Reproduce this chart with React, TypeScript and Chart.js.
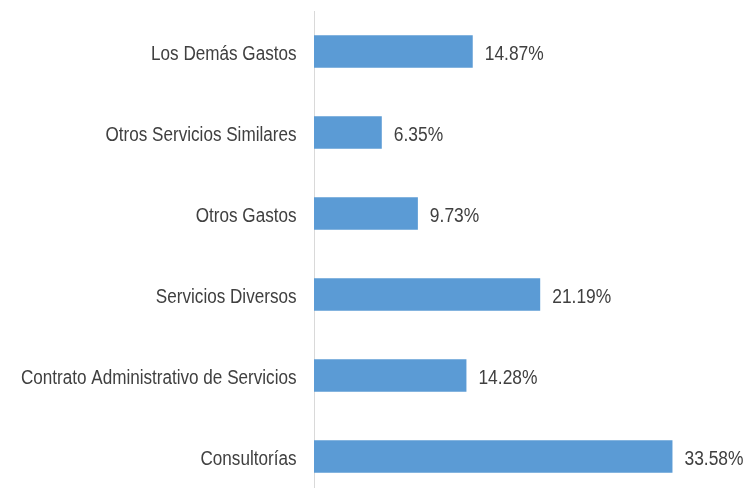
import React, { useEffect, useRef } from "react";
import { Chart, registerables } from "chart.js";

Chart.register(...registerables);

const categories = [
  "Los Demás Gastos",
  "Otros Servicios Similares",
  "Otros Gastos",
  "Servicios Diversos",
  "Contrato Administrativo de Servicios",
  "Consultorías",
];
const values = [14.87, 6.35, 9.73, 21.19, 14.28, 33.58];
const valueLabels = ["14.87%", "6.35%", "9.73%", "21.19%", "14.28%", "33.58%"];

const FONT = "'Liberation Sans', Arial, sans-serif";
const TEXT = "#404040";

const textPlugin = {
  id: "narrowText",
  afterDatasetsDraw(chart: any) {
    const ctx = chart.ctx;
    const meta = chart.getDatasetMeta(0);
    const yScale = chart.scales.y;
    const left = chart.chartArea.left;
    ctx.save();
    ctx.font = `20px ${FONT}`;
    ctx.fillStyle = TEXT;
    ctx.textBaseline = "alphabetic";
    // value labels
    ctx.textAlign = "left";
    meta.data.forEach((bar: any, i: number) => {
      ctx.save();
      ctx.translate(bar.x + 12, bar.y + 8);
      ctx.scale(0.87, 1);
      ctx.fillText(valueLabels[i], 0, 0);
      ctx.restore();
    });
    // category labels
    ctx.textAlign = "right";
    categories.forEach((c: string, i: number) => {
      const y = yScale.getPixelForValue(i);
      ctx.save();
      ctx.translate(left - 17.5, y + 8);
      ctx.scale(0.855, 1);
      ctx.fillText(c, 0, 0);
      ctx.restore();
    });
    ctx.restore();
  },
};

export default function App() {
  const ref = useRef<HTMLCanvasElement>(null);
  useEffect(() => {
    if (!ref.current) return;
    const chart = new Chart(ref.current, {
      type: "bar",
      data: {
        labels: categories,
        datasets: [
          {
            data: values,
            backgroundColor: "#5B9BD5",
            borderWidth: 0,
            categoryPercentage: 1,
            barPercentage: 0.4,
          },
        ],
      },
      options: {
        indexAxis: "y",
        animation: false,
        responsive: true,
        maintainAspectRatio: false,
        layout: { padding: { top: 11, bottom: 3, left: 0, right: 5 } },
        plugins: {
          legend: { display: false },
          tooltip: { enabled: false },
        },
        scales: {
          x: { display: false, min: 0, max: 40 },
          y: {
            afterFit(scale: any) {
              scale.width = 314;
              scale.paddingTop = 0;
              scale.paddingBottom = 0;
            },
            grid: { display: false, drawTicks: false },
            border: { display: true, color: "#d9d9d9", width: 1 },
            ticks: { display: false },
          },
        },
      },
      plugins: [textPlugin],
    });
    return () => chart.destroy();
  }, []);
  return (
    <div
      style={{
        position: "fixed",
        left: 0,
        top: 0,
        width: 746,
        height: 488,
        overflow: "hidden",
        background: "#fff",
      }}
    >
      <div style={{ position: "relative", width: 746, height: 500 }}>
        <canvas ref={ref} />
      </div>
    </div>
  );
}
